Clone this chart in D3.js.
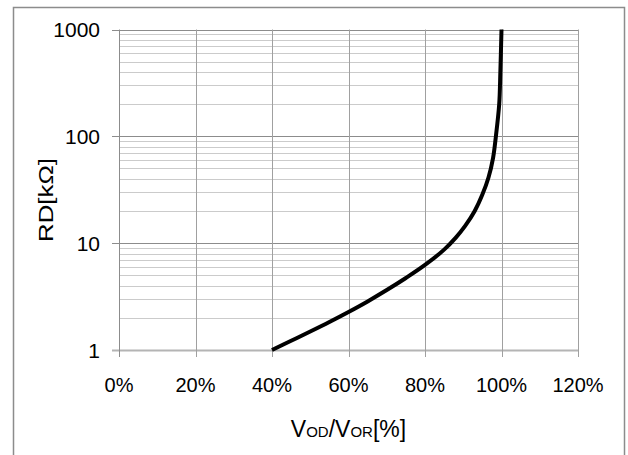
<!DOCTYPE html>
<html>
<head>
<meta charset="utf-8">
<script src="https://d3js.org/d3.v7.min.js"></script>
<style>
  body { margin: 0; background: #fff; }
  svg { display: block; font-family: "Liberation Sans", Arial, sans-serif; }
</style>
</head>
<body>
<svg id="chart" width="628" height="455"></svg>
<script>
// ratio VOD/VOR and resistance RD [kOhm]
const ratio = [0.40, 0.45, 0.50, 0.55, 0.60, 0.65, 0.70, 0.75, 0.80, 0.85, 0.88, 0.905, 0.93, 0.95, 0.966, 0.978, 0.985, 0.994, 0.997, 1.0]
const rd    = [1, 1.22, 1.49, 1.83, 2.27, 2.85, 3.64, 4.72, 6.25, 8.7, 11.2, 14.5, 20, 28.5, 41.2, 63, 97.7, 200, 400, 1000]
const xTicks = [0, 0.2, 0.4, 0.6, 0.8, 1.0, 1.2]
const yTicks = [1, 10, 100, 1000]

const svg = d3.select("#chart")
const plotL = 119, plotR = 578, plotT = 29.5, plotB = 350

// outer frame
svg.append("rect")
  .attr("x", 13.5).attr("y", 7.5).attr("width", 611).attr("height", 460)
  .attr("fill", "none").attr("stroke", "#8c8c8c").attr("stroke-width", 1.5)

const x = d3.scaleLinear().domain([0, 1.2]).range([plotL, plotR])
const y = d3.scaleLog().domain([1, 1000]).range([plotB, plotT])

// minor horizontal grid (2..9 in each decade)
const minor = []
yTicks.slice(0, -1).forEach(d => { for (let k = 2; k <= 9; k++) minor.push(d * k) })
svg.append("g").selectAll("line").data(minor).join("line")
  .attr("x1", plotL).attr("x2", plotR)
  .attr("y1", d => Math.round(y(d)) + 0.5).attr("y2", d => Math.round(y(d)) + 0.5)
  .attr("stroke", "#cbcbcb").attr("stroke-width", 1)

// major horizontal grid
svg.append("g").selectAll("line").data(yTicks).join("line")
  .attr("x1", plotL - 7).attr("x2", plotR)
  .attr("y1", d => Math.round(y(d)) + 0.5).attr("y2", d => Math.round(y(d)) + 0.5)
  .attr("stroke", d => d === 1 ? "#b4b4b4" : "#8c8c8c").attr("stroke-width", d => d === 1 ? 2 : 1)

// vertical grid
svg.append("g").selectAll("line").data(xTicks).join("line")
  .attr("x1", d => Math.round(x(d)) + 0.5).attr("x2", d => Math.round(x(d)) + 0.5)
  .attr("y1", plotT).attr("y2", plotB + 7)
  .attr("stroke", (d, i) => i === 0 ? "#8c8c8c" : "#a0a0a0").attr("stroke-width", 1)

// y tick labels
svg.append("g").selectAll("text").data(yTicks).join("text")
  .attr("x", 100).attr("y", d => y(d) + 7.5)
  .attr("text-anchor", "end").attr("font-size", 21).attr("fill", "#000")
  .text(d => d)

// x tick labels
svg.append("g").selectAll("text").data(xTicks).join("text")
  .attr("x", d => x(d)).attr("y", 391.5)
  .attr("text-anchor", "middle").attr("font-size", 20).attr("fill", "#000")
  .text(d => Math.round(d * 100) + "%")

// axis titles
svg.append("text")
  .attr("transform", "translate(53,200) rotate(-90)")
  .attr("text-anchor", "middle").attr("font-size", 21)
  .attr("textLength", 84).attr("lengthAdjust", "spacingAndGlyphs")
  .text("RD[kΩ]")

const xt = svg.append("text")
  .attr("x", (plotL + plotR) / 2).attr("y", 437)
  .attr("text-anchor", "middle").attr("font-size", 23)
xt.append("tspan").text("V")
xt.append("tspan").attr("font-size", 15).text("OD")
xt.append("tspan").text("/V")
xt.append("tspan").attr("font-size", 15).text("OR")
xt.append("tspan").text("[%]")

// curve
const pts = ratio.map((r, i) => [r, rd[i]])
svg.append("path")
  .datum(pts)
  .attr("fill", "none").attr("stroke", "#000").attr("stroke-width", 4)
  .attr("d", d3.line().x(d => x(d[0])).y(d => y(d[1])).curve(d3.curveCatmullRom))
</script>
</body>
</html>
